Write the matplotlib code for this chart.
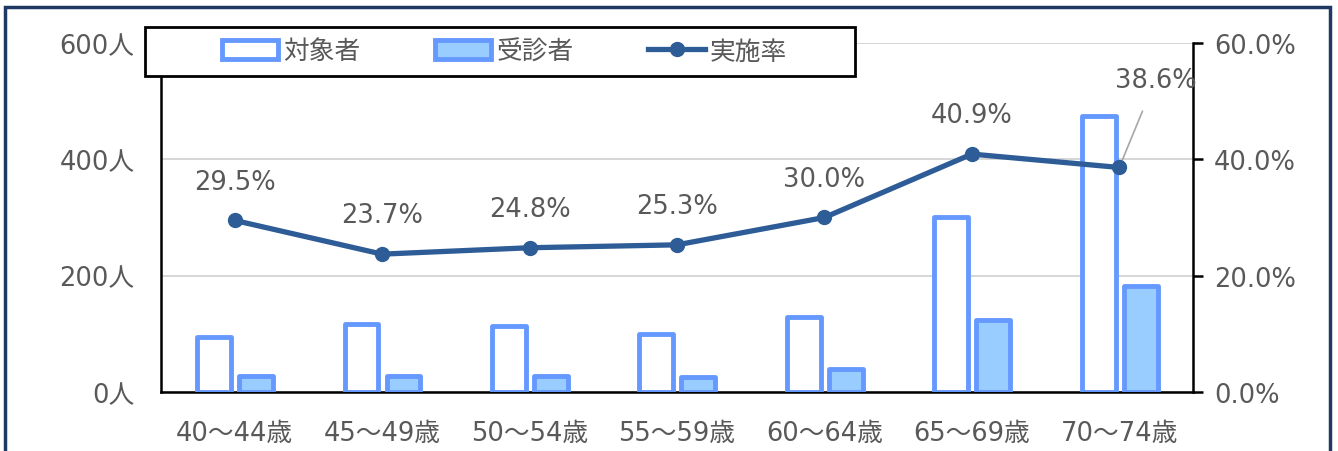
import matplotlib.pyplot as plt
import matplotlib.patches as mpatches
import matplotlib.lines as mlines
from matplotlib.ticker import FuncFormatter

plt.rcParams['font.family'] = ['DejaVu Sans', 'Noto Sans CJK JP']

# data
ages = ['40～44歳', '45～49歳', '50～54歳', '55～59歳', '60～64歳', '65～69歳', '70～74歳']
taishou = [95, 117, 113, 99, 129, 301, 474]      # 対象者
jushin = [28, 28, 28, 25, 39, 123, 183]          # 受診者
rate = [29.5, 23.7, 24.8, 25.3, 30.0, 40.9, 38.6]  # 実施率 (%)

edge_blue = '#6699FF'
fill_light = '#99CCFF'
line_blue = '#2E5C96'
gray_txt = '#595959'
fs = 18.5

fig = plt.figure(figsize=(13.38, 4.52), dpi=100)
ax = fig.add_axes([0.1203, 0.1305, 0.7713, 0.7722])
ax2 = ax.twinx()

x = list(range(len(ages)))
w = 0.23
ax.bar([i - 0.14 for i in x], taishou, w, color='white', edgecolor=edge_blue, linewidth=3.5,
       joinstyle='round', zorder=3)
ax.bar([i + 0.145 for i in x], jushin, w, color=fill_light, edgecolor=edge_blue, linewidth=3.5,
       joinstyle='round', zorder=3)

ax.set_xlim(-0.5, len(ages) - 0.5)
ax.set_ylim(0, 600)
ax.set_yticks([0, 200, 400, 600])
ax.yaxis.set_major_formatter(FuncFormatter(lambda v, p: f'{int(v)}人'))
ax.grid(axis='y', color='#D0D0D0', linewidth=1.2, zorder=0)
ax.set_axisbelow(True)
ax.set_xticks(x)
ax.set_xticklabels(ages)
ax.tick_params(axis='x', length=0, pad=20, labelsize=fs, labelcolor=gray_txt)
ax.tick_params(axis='y', length=0, pad=19, labelsize=fs, labelcolor=gray_txt)
for s in ['top', 'right']:
    ax.spines[s].set_visible(False)
ax.spines['left'].set_linewidth(1.8)
ax.spines['bottom'].set_linewidth(1.8)

ax2.plot(x, rate, color=line_blue, linewidth=3.8, marker='o', markersize=10, zorder=5)
ax2.set_ylim(0, 60)
ax2.set_yticks([0, 20, 40, 60])
ax2.yaxis.set_major_formatter(FuncFormatter(lambda v, p: f'{v:.1f}%'))
ax2.tick_params(axis='y', length=7, width=1.8, pad=8, labelsize=fs, labelcolor=gray_txt, direction='out')
for s in ['top', 'left', 'bottom']:
    ax2.spines[s].set_visible(False)
ax2.spines['right'].set_linewidth(1.8)

for i, r in enumerate(rate):
    if i == len(rate) - 1:
        ax2.annotate(f'{r:.1f}%', (i, r), xytext=(26, 63), textcoords='offset points',
                     ha='center', va='center', fontsize=fs, color=gray_txt,
                     arrowprops=dict(arrowstyle='-', color='#A6A6A6', lw=1.2, shrinkA=12, shrinkB=3))
    else:
        ax2.annotate(f'{r:.1f}%', (i, r), xytext=(0, 28), textcoords='offset points',
                     ha='center', va='center', fontsize=fs, color=gray_txt)

# legend box drawn separately, entries centred inside it
fig.patches.append(mpatches.Rectangle((0.1084, 0.8296), 0.5306, 0.1084, transform=fig.transFigure,
                                      facecolor='white', edgecolor='black', linewidth=2, zorder=10))
h1 = mpatches.Patch(facecolor='white', edgecolor=edge_blue, linewidth=3.5)
h2 = mpatches.Patch(facecolor=fill_light, edgecolor=edge_blue, linewidth=3.5)
h3 = mlines.Line2D([], [], color=line_blue, linewidth=3.8, marker='o', markersize=10)
leg = fig.legend([h1, h2, h3], ['対象者', '受診者', '実施率'], ncol=3, loc='center',
                 bbox_to_anchor=(0.377, 0.884), fontsize=fs, frameon=False,
                 handlelength=2.2, handleheight=0.8, handletextpad=0.2, columnspacing=2.9)
leg.set_zorder(11)
for t in leg.get_texts():
    t.set_color(gray_txt)

# outer frame
fig.patches.append(mpatches.Rectangle((0.004, -0.05), 0.99, 1.032, transform=fig.transFigure,
                                      fill=False, edgecolor='#1F3864', linewidth=2.5))

fig.savefig('out.png', dpi=100)
